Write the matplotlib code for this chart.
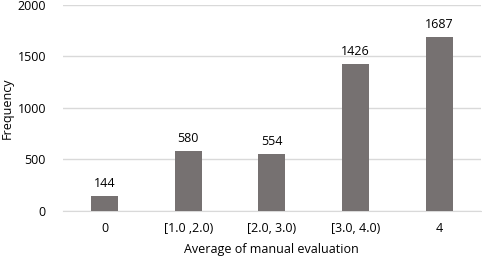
import matplotlib
matplotlib.use("Agg")
import matplotlib.pyplot as plt

categories = ["0", "[1.0 ,2.0)", "[2.0, 3.0)", "[3.0, 4.0)", "4"]
values = [144, 580, 554, 1426, 1687]
yticks = [0, 500, 1000, 1500, 2000]

plt.rcParams['font.family'] = ['Open Sans', 'DejaVu Sans']
fig = plt.figure(figsize=(4.82, 2.62), dpi=100)
ax = fig.add_axes([0.130, 0.195, 0.868, 0.786])
x = list(range(len(categories)))
ax.bar(x, values, width=0.32, color="#767171", zorder=3)
for xi, v in zip(x, values):
    ax.text(xi, v + 60, str(v), ha="center", va="bottom", fontsize=9, color="#000000")
ax.set_xlim(-0.5, 4.5)
ax.set_ylim(0, 2000)
ax.set_yticks(yticks)
ax.set_xticks(x)
ax.set_xticklabels(categories)
ax.grid(axis="y", color="#d9d9d9", linewidth=1, zorder=0)
for s in ["top", "right", "left"]:
    ax.spines[s].set_visible(False)
ax.spines["bottom"].set_color("#d9d9d9")
ax.tick_params(axis="both", length=0, labelsize=9, colors="#000000")
ax.tick_params(axis="x", pad=8)
ax.tick_params(axis="y", pad=12)
ax.set_xlabel("Average of manual evaluation", fontsize=9, labelpad=6)
ax.set_ylabel("Frequency", fontsize=9, labelpad=3)
fig.savefig("out.png", dpi=100)
